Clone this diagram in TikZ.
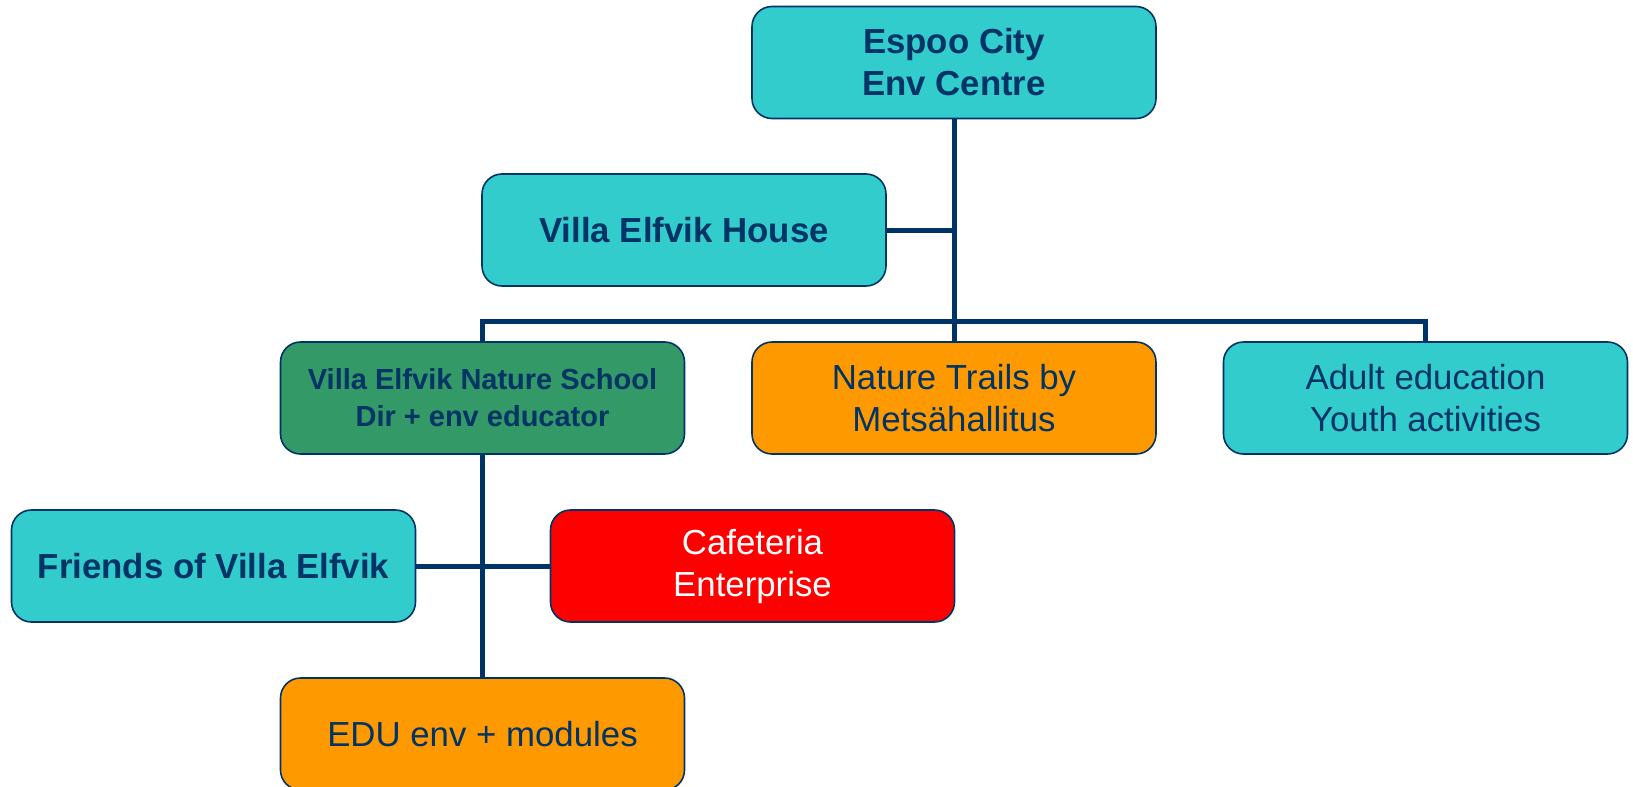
\documentclass[tikz,border=0pt]{standalone}
\usepackage{fontspec}
\setmainfont{Liberation Sans}
\usepackage{xcolor}
\usetikzlibrary{positioning}
\definecolor{navy}{HTML}{003366}
\definecolor{teal}{HTML}{33CCCC}
\definecolor{leaf}{HTML}{339966}
\definecolor{amber}{HTML}{FF9900}
\definecolor{alarm}{HTML}{FF0000}

\begin{document}
\begin{tikzpicture}[x=0.5pt, y=-0.5pt,
	every node/.style={rectangle, rounded corners=10pt, draw=navy, line width=0.8pt, fill=teal,
		minimum width=202pt, minimum height=56pt, inner sep=0pt, align=center, text=navy,
		font=\fontsize{17.4}{21}\selectfont},
	link/.style={navy, line width=2.5pt}]
	\useasboundingbox (0,0) rectangle (1633,787);
	% Nodes
	\node (espoo) at (954,62.5) {\bfseries Espoo City\\\bfseries Env Centre};
	\node (house) at (684,230) {\bfseries Villa Elfvik House};
	\node (school) [fill=leaf, font=\fontsize{14.5}{18.5}\selectfont\bfseries] at (482.5,398) {Villa Elfvik Nature School\\Dir + env educator};
	\node (trails) [fill=amber] at (954,398) {Nature Trails by\\Metsähallitus};
	\node (adult) at (1425.5,398) {Adult education\\Youth activities};
	\node (friends) at (213.5,566) {\bfseries Friends of Villa Elfvik};
	\node (cafe) [fill=alarm, text=white] at (752.5,566) {Cafeteria\\Enterprise};
	\node (edu) [fill=amber] at (482.5,734) {EDU env + modules};
	\coordinate (bus) at (954,321);
	% Edges
	\draw [link] (espoo.south) -- (trails.north);
	\draw [link] (house.east) -- (espoo.south |- house.east);
	\draw [link] (school.north) -- (school.north |- bus) -- (adult.north |- bus) -- (adult.north);
	\draw [link] (school.south) -- (edu.north);
	\draw [link] (friends.east) -- (cafe.west);
\end{tikzpicture}
\end{document}
